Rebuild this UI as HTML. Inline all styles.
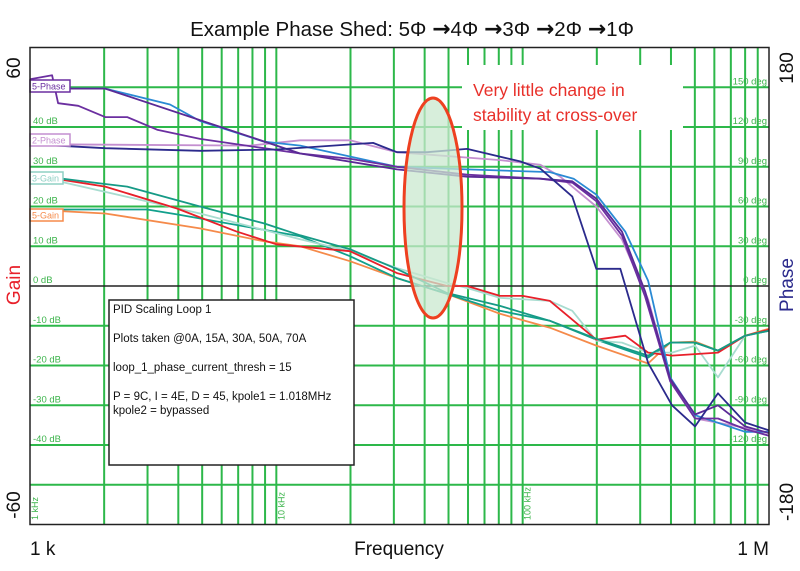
<!DOCTYPE html>
<html><head><meta charset="utf-8"><style>
html,body{margin:0;padding:0;background:#fff;}
svg{display:block;font-family:"Liberation Sans",sans-serif;}
</style></head><body>
<svg id="chart" width="800" height="571" viewBox="0 0 800 571">
<text x="412" y="36" font-size="20.5" text-anchor="middle" fill="#111">Example Phase Shed: 5Φ <tspan font-family="DejaVu Sans" font-size="22" font-weight="bold">→</tspan>4Φ <tspan font-family="DejaVu Sans" font-size="22" font-weight="bold">→</tspan>3Φ <tspan font-family="DejaVu Sans" font-size="22" font-weight="bold">→</tspan>2Φ <tspan font-family="DejaVu Sans" font-size="22" font-weight="bold">→</tspan>1Φ</text>
<g id="grid"></g>
<rect x="462" y="65" width="221" height="65" fill="#fff"/>
<text x="473" y="96" font-size="17.5" fill="#e8302a">Very little change in</text>
<text x="473" y="121" font-size="17.5" fill="#e8302a">stability at cross-over</text>
<g id="labels"></g>
<g id="series"></g>
<ellipse cx="433" cy="208" rx="29" ry="110" fill="#c9e8cf" fill-opacity="0.75" stroke="#ee4020" stroke-width="3"/>
<g>
<rect x="109" y="300" width="245" height="165" fill="#fff" stroke="#222" stroke-width="1.5"/>
<text font-size="11.5" fill="#111">
<tspan x="113" y="313">PID Scaling Loop 1</tspan>
<tspan x="113" y="342">Plots taken @0A, 15A, 30A, 50A, 70A</tspan>
<tspan x="113" y="371">loop_1_phase_current_thresh = 15</tspan>
<tspan x="113" y="400">P = 9C, I = 4E, D = 45, kpole1 = 1.018MHz</tspan>
<tspan x="113" y="414">kpole2 = bypassed</tspan>
</text></g>
<g id="legendtags"></g>
<rect x="30" y="47.5" width="739" height="477" fill="none" stroke="#222" stroke-width="1.5"/>
<text transform="translate(20,68) rotate(-90)" font-size="19" text-anchor="middle" fill="#111">60</text>
<text transform="translate(20,505) rotate(-90)" font-size="19" text-anchor="middle" fill="#111">-60</text>
<text transform="translate(20,285) rotate(-90)" font-size="19" text-anchor="middle" fill="#e8202a">Gain</text>
<text transform="translate(793,68) rotate(-90)" font-size="19" text-anchor="middle" fill="#111">180</text>
<text transform="translate(793,502) rotate(-90)" font-size="19" text-anchor="middle" fill="#111">-180</text>
<text transform="translate(793,285) rotate(-90)" font-size="19" text-anchor="middle" fill="#2b2a8c">Phase</text>
<text x="30" y="555" font-size="19" fill="#111">1 k</text>
<text x="399" y="555" font-size="19" text-anchor="middle" fill="#111">Frequency</text>
<text x="769" y="555" font-size="19" text-anchor="end" fill="#111">1 M</text>
</svg>
<script>
// Data (frequency in kHz, gain in dB, phase in degrees)
const gainTicks = [50,40,30,20,10,0,-10,-20,-30,-40,-50];
const phaseTicks = [150,120,90,60,30,0,-30,-60,-90,-120,-150];
const decadeLabels = ["1 kHz","10 kHz","100 kHz"];

const fBlue = [1,2.02,3.7,4.9,8.91,12.5,30.9,59.5,129,161,199,261,323,397,501,800,1000];
const phBlue = [149,149,137,124.5,109,106,90,88,86,81,69,41,4,-69,-97.5,-110,-110];
const fPurple5 = [1,2.02,12.5,30.9,59.5,118,159,199,253,314,397,501,621,800,1000];
const phPurple5 = [149,149,100,88,82.5,81,79,66,41,-4,-70,-97,-90,-106,-111];
const fPurple3 = [1,1.23,1.3,1.57,2.02,2.48,3.28,4.9,8.91,12.5,19.9,30.9,59.5,118,159,199,253,314,397,501,621,800,1000];
const phPurple3 = [156,159,138,136,127.5,127.5,118,111,104,100,96,90,84,81,78,64,38,-8,-72,-100,-100,-108,-113];
const fLilac = [1,7.82,12.5,19.9,30.9,80.9,118,142,199,253,323,397,501,800,1000];
const phLilac = [107,106,110,110,101,95,91.5,82.5,60,35,-10,-70,-100,-107,-113];
const fNavy = [1,2.02,4.9,10,24.7,30.9,40.9,59.5,97.6,118,159,199,249,323,404,501,621,800,1000];
const phNavy = [107,104,102,103,108,101,101,103.5,94,88.5,67.5,13,13,-58,-90,-106,-81,-103,-109];

const fRed = [1,2.02,3.95,6.86,10,19.9,30.9,49.3,59.5,80.9,100,129,199,261,323,404,621,800,1000];
const gRed = [28,25,19.5,13.75,10.5,8.75,3.25,0,0,-2.5,-2.5,-3.75,-13.5,-12.5,-16.75,-17.5,-16.75,-12.5,-11];
const fLtTeal = [1,4.9,12.5,19.9,30.9,49.3,59.5,80.9,129,159,199,253,323,404,501,621,800,1000];
const gLtTeal = [28,18.25,11.75,8.75,4.5,0.75,-0.5,-3,-3.75,-6.25,-13.75,-14.25,-16.75,-16.75,-15,-23,-12.5,-11.25];
const fTeal1 = [1,1.96,2.48,4.9,8.91,12.5,19.9,30.9,49.3,80.9,129,199,323,397,501,621,800,1000];
const gTeal1 = [28,25.75,25,20,15.75,12.75,9.25,4.25,-1.75,-5,-8.75,-13.25,-17.5,-14.25,-14.25,-16.25,-12.5,-11.25];
const fTeal2 = [1,2.99,3.95,12.5,19.9,30.9,49.3,80.9,129,199,323,397,501,621,800,1000];
const gTeal2 = [19.25,19.25,18,12.5,7.5,2,-2,-6.25,-8.75,-13.5,-18,-14.25,-14.25,-16.25,-12.5,-11.25];
const fOrange = [1,2.02,4.9,8.91,12.5,19.9,30.9,49.3,80.9,129,199,323,397,501,621,800,1000];
const gOrange = [19.25,18.25,14.5,11.25,10,6.25,2,-2,-7,-10.5,-15,-19.5,-14.25,-14,-16.25,-12.5,-10.75];

const NS = "http://www.w3.org/2000/svg";
const L = 30, R = 769, T = 47.5, B = 524.5;
const X = f => L + (R - L) * Math.log10(f) / 3;
const YG = db => 286 - db * (B - T) / 120;
const YP = d => 286 - d * (B - T) / 360;

function mk(tag, attrs, parent) {
  const e = document.createElementNS(NS, tag);
  for (const k in attrs) e.setAttribute(k, attrs[k]);
  parent.appendChild(e);
  return e;
}
const grid = document.getElementById('grid');
const GREEN = "#2db84a";
for (let d = 0; d < 3; d++) {
  for (let m = 1; m <= 9; m++) {
    if (d === 0 && m === 1) continue;
    const x = X(Math.pow(10, d) * m);
    const ln = mk('line', {x1: x, x2: x, y1: T, y2: B, stroke: GREEN, 'stroke-width': 2}, grid);
    
    
  }
}
gainTicks.forEach(v => {
  const y = YG(v);
  const ln = mk('line', {x1: L, x2: R, y1: y, y2: y, stroke: v === 0 ? "#222" : GREEN, 'stroke-width': v === 0 ? 1.5 : 2}, grid);
  
  
});
const labels = document.getElementById('labels');
gainTicks.forEach(v => {
  if (Math.abs(v) > 40) return;
  const t = mk('text', {x: 33, y: YG(v) - 3, 'font-size': 9.5, fill: "#3cb44b"}, labels);
  t.textContent = v + " dB";
  
  
});
phaseTicks.forEach(v => {
  if (v < -120) return;
  const t = mk('text', {x: 767, y: YP(v) - 3, 'font-size': 9.5, fill: "#3cb44b", 'text-anchor': 'end'}, labels);
  t.textContent = v + " deg";
  
  
});
decadeLabels.forEach((s, i) => {
  const x = X(Math.pow(10, i)) + 8;
  const t = mk('text', {transform: `translate(${x},520) rotate(-90)`, 'font-size': 9, fill: "#3cb44b"}, labels);
  t.textContent = s;
  
  
});

const series = document.getElementById('series');
function line(fs, vs, yf, color, name) {
  const pts = fs.map((f, i) => X(f).toFixed(1) + "," + yf(vs[i]).toFixed(1)).join(" ");
  const p = mk('polyline', {points: pts, fill: 'none', stroke: color, 'stroke-width': 1.8, 'stroke-linejoin': 'round'}, series);
  
  
}
line(fOrange, gOrange, YG, "#f58a4a", "gain-5-phase");
line(fTeal2, gTeal2, YG, "#12a08c", "gain-4-phase");
line(fLtTeal, gLtTeal, YG, "#a8dcd0", "gain-3-phase");
line(fRed, gRed, YG, "#e8202a", "gain-2-phase");
line(fTeal1, gTeal1, YG, "#169a86", "gain-1-phase");
line(fLilac, phLilac, YP, "#c48fd0", "phase-2-phase");
line(fBlue, phBlue, YP, "#2a8ad4", "phase-4-phase");
line(fPurple3, phPurple3, YP, "#6b2fa0", "phase-3-phase");
line(fPurple5, phPurple5, YP, "#5a2a96", "phase-5-phase");
line(fNavy, phNavy, YP, "#2b2a8c", "phase-1-phase");

const tags = document.getElementById('legendtags');
[["5-Phase", 80, 40, "#6b2fa0"], ["2-Phase", 134, 40, "#c48fd0"], ["3-Gain", 172, 33, "#8fd0c4"], ["5-Gain", 209, 33, "#f58a4a"]].forEach(d => {
  const g = mk('g', {}, tags);
  
  
  mk('rect', {x: 30, y: d[1], width: d[2], height: 12, fill: '#fff', stroke: d[3], 'stroke-width': 1.5}, g);
  const t = mk('text', {x: 32, y: d[1] + 9.5, 'font-size': 9, fill: d[3]}, g);
  t.textContent = d[0];
});
</script>
</body></html>
